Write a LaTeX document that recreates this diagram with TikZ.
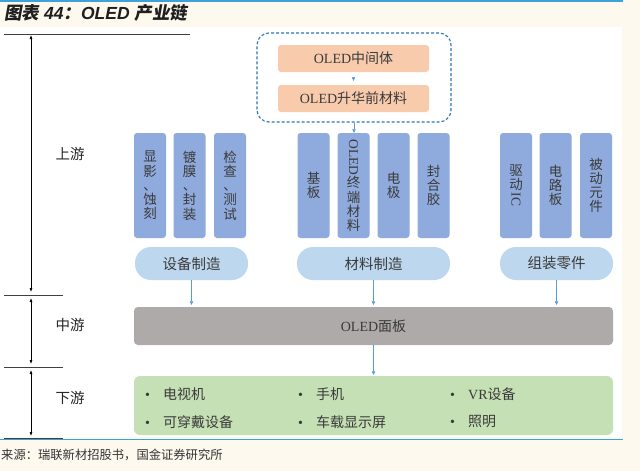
\documentclass[tikz,border=0pt]{standalone}
\usepackage{fontspec}
\setmainfont{Liberation Serif}
\newfontfamily\cjk{Noto Sans CJK SC}
\newfontfamily\cjkt[FakeSlant=0.18]{Noto Sans CJK SC}
\newfontfamily\latt{Liberation Sans}
\usetikzlibrary{arrows.meta}
\definecolor{bgcream}{HTML}{FEF9EF}
\definecolor{lineblue}{HTML}{3DA2DC}
\definecolor{peach}{HTML}{F8CBAD}
\definecolor{dashblue}{HTML}{2E75B6}
\definecolor{midblue}{HTML}{8FAADC}
\definecolor{pillblue}{HTML}{BDD7EE}
\definecolor{panelgray}{HTML}{AEAAAA}
\definecolor{greenbox}{HTML}{C5E0B4}
\definecolor{arrowblue}{HTML}{5B9BD5}
\definecolor{txtdark}{HTML}{3A3A3A}
\tikzset{
  vbox/.style={fill=midblue, rounded corners=3pt, minimum width=32pt, minimum height=105pt,
    inner sep=0pt, align=center, text=txtdark, font=\cjk\fontsize{13.5}{14.2}\selectfont},
  pill/.style={fill=pillblue, rounded corners=16pt, minimum height=33pt, inner sep=0pt,
    text=txtdark, font=\cjk\fontsize{14.5}{16}\selectfont},
  peachbox/.style={fill=peach, rounded corners=3pt, minimum width=151pt, minimum height=27pt,
    inner sep=0pt, text=txtdark, font=\fontsize{14}{16}\selectfont},
  flow/.style={-{Triangle[length=3.5pt,width=3.5pt]}, draw=arrowblue, line width=0.6pt},
  dimarrow/.style={{Latex[length=4pt,width=3pt]}-{Latex[length=4pt,width=3pt]}, draw=black, line width=0.6pt},
  sepline/.style={draw=black!75, line width=0.8pt},
  stage/.style={inner sep=0pt, text=black!85, font=\cjk\fontsize{14.5}{16}\selectfont},
  item/.style={anchor=west, inner sep=0pt, text=txtdark, font=\fontsize{14}{16}\selectfont},
}
\newcommand{\bul}{\makebox[18pt][l]{\textbullet}}
\begin{document}
\begin{tikzpicture}[x=1pt,y=-1pt]
\useasboundingbox (0,0) rectangle (640,471);
\fill[bgcream] (0,0) rectangle (640,471);
\fill[white] (0,27) rectangle (622,437);
\draw[lineblue, line width=1.3pt] (0,1) -- (623,1);
\draw[lineblue, line width=1.3pt] (0,439.5) -- (623,439.5);

% title and source
\node[anchor=west, inner sep=0pt, text=black!88, font=\fontsize{17.5}{19}\selectfont] (title) at (4,13)
  {{\cjkt\bfseries 图表}{\latt\bfseries\itshape\ 44}{\cjkt\bfseries ：}{\latt\bfseries\itshape OLED }{\cjkt\bfseries 产业链}};
\node[anchor=west, inner sep=0pt, text=black!80, font=\cjk\fontsize{12.3}{14}\selectfont] (src) at (1,455)
  {来源：瑞联新材招股书，国金证券研究所};

% left stage separators and arrows
\coordinate (l0) at (4,34);
\coordinate (l0e) at (190,34);
\coordinate (l1) at (4,295);
\coordinate (l1e) at (63,295);
\coordinate (l2) at (4,367);
\coordinate (l2e) at (63,367);
\coordinate (l3) at (4,438);
\coordinate (l3e) at (63,438);
\draw[sepline] (l0) -- (l0e);
\draw[sepline] (l1) -- (l1e);
\draw[sepline] (l2) -- (l2e);
\draw[sepline] (l3) -- (l3e);
\coordinate (a0) at (31,35);
\coordinate (a1) at (31,292);
\coordinate (a2) at (31,298);
\coordinate (a3) at (31,364);
\coordinate (a4) at (31,370);
\coordinate (a5) at (31,436);
\draw[dimarrow] (a0) -- (a1);
\draw[dimarrow] (a2) -- (a3);
\draw[dimarrow] (a4) -- (a5);
\node[stage] (up) at (70,154) {上游};
\node[stage] (mid) at (70,325) {中游};
\node[stage] (down) at (70,398) {下游};

% dashed group
\node[draw=dashblue, dashed, dash pattern=on 3pt off 2pt, line width=1.1pt, rounded corners=12pt,
  minimum width=194pt, minimum height=89pt, inner sep=0pt] (dash) at (354,77.5) {};
\node[peachbox] (pa) at (353.5,58.5) {OLED{\cjk 中间体}};
\node[peachbox] (pb) at (353.5,98.5) {OLED{\cjk 升华前材料}};
\draw[flow, shorten <=6pt, shorten >=4pt] (pa.south) -- (pb.north);

% equipment
\node[vbox] (e1) at (150,185.5) {显\\影\\、\\蚀\\刻};
\node[vbox] (e2) at (189.5,185.5) {镀\\膜\\、\\封\\装};
\node[vbox] (e3) at (230,185.5) {检\\查\\、\\测\\试};
% materials
\node[vbox] (m1) at (313.5,185.5) {基\\板};
\node[vbox] (m2) at (353.5,185.5) {\rotatebox[origin=c]{-90}{\rmfamily OLED}\\终\\端\\材\\料};
\node[vbox] (m3) at (393.5,185.5) {电\\极};
\node[vbox] (m4) at (433.5,185.5) {封\\合\\胶};
% parts
\node[vbox] (c1) at (516,185.5) {驱\\动\\\rotatebox[origin=c]{-90}{\rmfamily IC}};
\node[vbox] (c2) at (555.5,185.5) {电\\路\\板};
\node[vbox] (c3) at (596,185.5) {被\\动\\元\\件};

\draw[flow] (dash.south) -- (dash.south |- m2.north);

% pills
\node[pill, minimum width=113pt] (p1) at (191.5,263.5) {设备制造};
\node[pill, minimum width=153pt] (p2) at (373.5,263.5) {材料制造};
\node[pill, minimum width=113pt] (p3) at (556.5,263.5) {组装零件};

% panel
\node[fill=panelgray, rounded corners=4pt, minimum width=479pt, minimum height=38pt, inner sep=0pt,
  text=txtdark, font=\fontsize{14}{16}\selectfont] (panel) at (373.5,326) {OLED{\cjk 面板}};
\draw[flow, shorten >=2pt] (p1.south) -- (p1.south |- panel.north);
\draw[flow, shorten >=2pt] (p2.south) -- (p2.south |- panel.north);
\draw[flow, shorten >=2pt] (p3.south) -- (p3.south |- panel.north);

% applications
\node[fill=greenbox, rounded corners=6pt, minimum width=479pt, minimum height=59pt, inner sep=0pt] (apps) at (373.5,405.5) {};
\draw[flow, shorten >=1pt] (panel.south) -- (apps.north);
\node[item] (g1) at (145,394) {\bul{\cjk 电视机}};
\node[item] (g2) at (298,394) {\bul{\cjk 手机}};
\node[item] (g3) at (450,394) {\bul VR{\cjk 设备}};
\node[item] (g4) at (145,422) {\bul{\cjk 可穿戴设备}};
\node[item] (g5) at (298,422) {\bul{\cjk 车载显示屏}};
\node[item] (g6) at (450,422) {\bul{\cjk 照明}};
\end{tikzpicture}
\end{document}
